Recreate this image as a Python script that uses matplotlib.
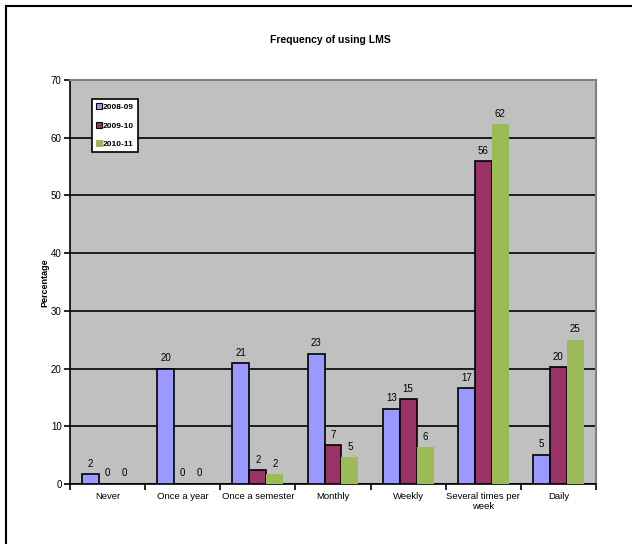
import numpy as np
import matplotlib
matplotlib.use("Agg")
import matplotlib.pyplot as plt
from matplotlib.lines import Line2D

plt.rcParams['font.family'] = ['Liberation Sans', 'DejaVu Sans']

categories = ["Never", "Once a year", "Once a semester", "Monthly", "Weekly",
              "Several times per\nweek", "Daily"]
series_names = ["2008-09", "2009-10", "2010-11"]
y_2008 = [1.7, 20.0, 20.9, 22.6, 13.0, 16.6, 5.1]
y_2009 = [0.0, 0.0, 2.4, 6.7, 14.7, 55.9, 20.2]
y_2010 = [0.0, 0.0, 1.7, 4.6, 6.4, 62.3, 25.0]
y_ticks = [0, 10, 20, 30, 40, 50, 60, 70]

colors = ["#9999FF", "#993366", "#9BBB59"]
edges = ["black", "black", "none"]

fig = plt.figure(figsize=(6.32, 5.44), dpi=100)
ax = fig.add_axes([70/632, 1-484/544, (596-70)/632, (484-80)/544])
ax.set_facecolor("#C0C0C0")

x = np.arange(len(categories))
w = 0.225
for i, (vals, c, ec) in enumerate(zip([y_2008, y_2009, y_2010], colors, edges)):
    bars = ax.bar(x + (i - 1) * w, vals, width=w, color=c, edgecolor=ec,
                  linewidth=1.2 if ec != "none" else 0, label=series_names[i], zorder=3)
    ax.bar_label(bars, fmt="%.0f", padding=4, fontsize=7, zorder=4)

ax.set_xlim(-0.5, len(categories) - 0.5)
ax.set_ylim(0, 70)
ax.set_yticks(y_ticks)
ax.set_yticklabels([str(t) for t in y_ticks], fontsize=7)
ax.yaxis.grid(True, color="black", linewidth=1.2, zorder=1)
ax.set_axisbelow(True)

# category labels centred in each group, tick marks at group boundaries
ax.set_xticks(np.arange(-0.5, len(categories)), minor=False)
ax.set_xticklabels([])
ax.set_xticks(x, minor=True)
ax.set_xticklabels(categories, minor=True, fontsize=6.8, linespacing=1.1)
ax.tick_params(axis="x", which="minor", length=0, pad=6)
ax.tick_params(axis="x", which="major", length=4, width=1.2, direction="out")
ax.tick_params(axis="y", length=4, width=1.2, direction="out", pad=2)

for s in ["left", "bottom"]:
    ax.spines[s].set_color("black")
    ax.spines[s].set_linewidth(1.2)
for s in ["top", "right"]:
    ax.spines[s].set_color("#808080")
    ax.spines[s].set_linewidth(1.5)

fig.text(45/632, 1-283/544, "Percentage", rotation=90, fontsize=6.5,
         fontweight="bold", ha="center", va="center")

fig.text(0.522, 1-40/544, "Frequency of using LMS", fontsize=7.5, fontweight="bold",
         ha="center", va="center")

handles = [Line2D([0], [0], marker="s", linestyle="none", markersize=4,
                  markerfacecolor=c, markeredgecolor=("black" if ec != "none" else c),
                  markeredgewidth=0.8) for c, ec in zip(colors, edges)]
leg = ax.legend(handles, series_names, loc="upper left",
                bbox_to_anchor=(0.042, 0.953), fontsize=6, frameon=True,
                fancybox=False, framealpha=1, edgecolor="black",
                handlelength=0.6, handletextpad=0.2, labelspacing=1.3,
                borderpad=0.5, borderaxespad=0)
leg.get_frame().set_linewidth(1.2)
for t in leg.get_texts():
    t.set_fontweight("bold")

# outer chart frame
fig.add_artist(Line2D([6/632, 6/632], [0, 1-6/544], transform=fig.transFigure,
                      color="black", linewidth=1.5))
fig.add_artist(Line2D([6/632, 1], [1-6/544, 1-6/544], transform=fig.transFigure,
                      color="black", linewidth=1.5))

fig.savefig("out.png", dpi=100)
